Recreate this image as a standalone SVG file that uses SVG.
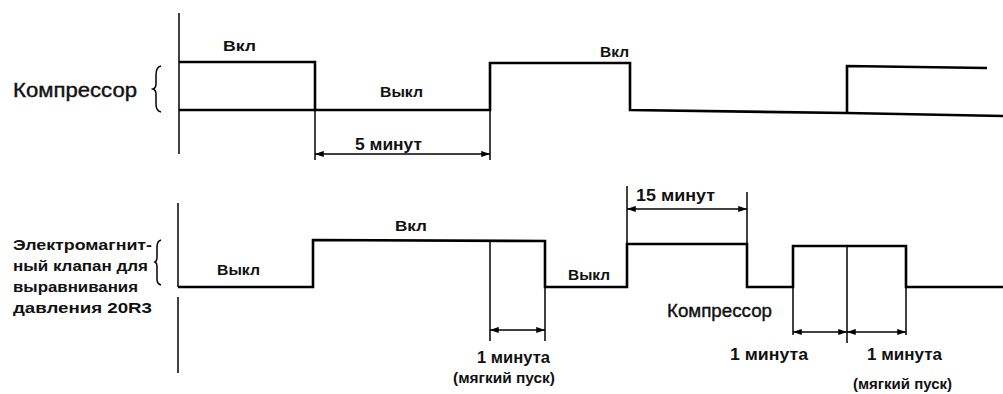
<svg xmlns="http://www.w3.org/2000/svg" width="1003" height="394" viewBox="0 0 1003 394">
<style>
.sig{fill:none;stroke:#000;stroke-width:2.6;stroke-linejoin:miter}
.thin{fill:none;stroke:#000;stroke-width:1.5}
.dim{fill:none;stroke:#000;stroke-width:1.6;marker-start:url(#ah);marker-end:url(#ah)}
text{font-family:"Liberation Sans",Arial,sans-serif;font-weight:bold;fill:#111}
.big{font-size:20px;font-weight:normal;stroke:#111;stroke-width:0.4}
.lab{font-size:15px}
.mid{font-size:16px}
</style>
<defs>
<marker id="ah" viewBox="0 0 10 8" refX="10" refY="4" markerWidth="9" markerHeight="7" markerUnits="userSpaceOnUse" orient="auto-start-reverse">
<path d="M0,0.5 L10,4 L0,7.5 z" fill="#000"/>
</marker>
</defs>
<rect width="1003" height="394" fill="#fff"/>

<g id="compressor-label">
<text class="big" x="13" y="97" textLength="124" lengthAdjust="spacingAndGlyphs">Компрессор</text>
<path class="thin" d="M161,66 Q156,67 156,75 L156,84 Q156,88 153,89 Q156,90 156,94 L156,104 Q156,111 161,112"/>
</g>

<g id="valve-label">
<text class="lab" x="13" y="250" textLength="139" lengthAdjust="spacingAndGlyphs">Электромагнит-</text>
<text class="lab" x="13" y="271" textLength="135" lengthAdjust="spacingAndGlyphs">ный клапан для</text>
<text class="lab" x="13" y="292" textLength="125" lengthAdjust="spacingAndGlyphs">выравнивания</text>
<text class="lab" x="13" y="313" textLength="139" lengthAdjust="spacingAndGlyphs">давления  20R3</text>
<path class="thin" d="M161,240 Q157,241 157,247 L157,258 Q157,261 155,262 Q157,263 157,266 L157,279 Q157,284 161,285"/>
</g>

<g id="compressor-signal">
<line class="thin" x1="179" y1="13" x2="179" y2="154"/>
<polyline class="sig" points="179,62 315,62 315,110 490,110 490,63 630,63 630,110 847,113"/>
<polyline class="sig" points="847,113 847,66 987,68"/>
<line class="sig" x1="847" y1="113" x2="1003" y2="116"/>
<line class="sig" x1="179" y1="110" x2="315" y2="110"/>
<text class="lab" x="223" y="51" textLength="33" lengthAdjust="spacingAndGlyphs">Вкл</text>
<text class="lab" x="380" y="97" textLength="43" lengthAdjust="spacingAndGlyphs">Выкл</text>
<text class="lab" x="600" y="57" textLength="29" lengthAdjust="spacingAndGlyphs">Вкл</text>
</g>

<g id="valve-signal">
<line class="thin" x1="178" y1="203" x2="178" y2="287"/>
<line class="thin" x1="178" y1="297" x2="178" y2="373"/>
<polyline class="sig" points="178,287 313,287 313,240 545,241 545,287 627,287 627,244 747,244 747,287 793,287 793,246 906,246 906,287 1003,287"/>
<line class="thin" x1="490" y1="241" x2="490" y2="287"/>
<line class="thin" x1="847" y1="246" x2="847" y2="287"/>
<text class="lab" x="217" y="275" textLength="43" lengthAdjust="spacingAndGlyphs">Выкл</text>
<text class="lab" x="395" y="231" textLength="32" lengthAdjust="spacingAndGlyphs">Вкл</text>
<text class="lab" x="568" y="280" textLength="42" lengthAdjust="spacingAndGlyphs">Выкл</text>
</g>

<g id="connectors">
<line class="thin" x1="315" y1="110" x2="315" y2="160"/>
<line class="thin" x1="490" y1="110" x2="490" y2="160"/>
<line class="dim" x1="315" y1="154" x2="490" y2="154"/>
<text class="mid" x="355" y="150" textLength="67" lengthAdjust="spacingAndGlyphs">5 минут</text>

<line class="thin" x1="490" y1="287" x2="490" y2="341"/>
<line class="thin" x1="545" y1="287" x2="545" y2="341"/>
<line class="dim" x1="490" y1="330" x2="545" y2="330"/>
<text class="mid" x="477" y="363" textLength="73" lengthAdjust="spacingAndGlyphs">1 минута</text>
<text class="lab" x="453" y="383" textLength="102" lengthAdjust="spacingAndGlyphs">(мягкий пуск)</text>

<line class="thin" x1="627" y1="186" x2="627" y2="244"/>
<line class="thin" x1="747" y1="192" x2="747" y2="244"/>
<line class="dim" x1="627" y1="209" x2="747" y2="209"/>
<text class="mid" x="636" y="201" textLength="79" lengthAdjust="spacingAndGlyphs">15  минут</text>

<line class="thin" x1="793" y1="287" x2="793" y2="335"/>
<line class="thin" x1="847" y1="287" x2="847" y2="343"/>
<line class="thin" x1="906" y1="287" x2="906" y2="335"/>
<line class="dim" x1="793" y1="332" x2="847" y2="332"/>
<line class="dim" x1="847" y1="332" x2="906" y2="332"/>
<text class="big" x="667" y="317" textLength="105" lengthAdjust="spacingAndGlyphs" style="font-size:18px">Компрессор</text>
<text class="mid" x="730" y="360" textLength="78" lengthAdjust="spacingAndGlyphs">1 минута</text>
<text class="mid" x="867" y="360" textLength="75" lengthAdjust="spacingAndGlyphs">1 минута</text>
<text class="lab" x="853" y="389" textLength="99" lengthAdjust="spacingAndGlyphs">(мягкий пуск)</text>
</g>
</svg>
